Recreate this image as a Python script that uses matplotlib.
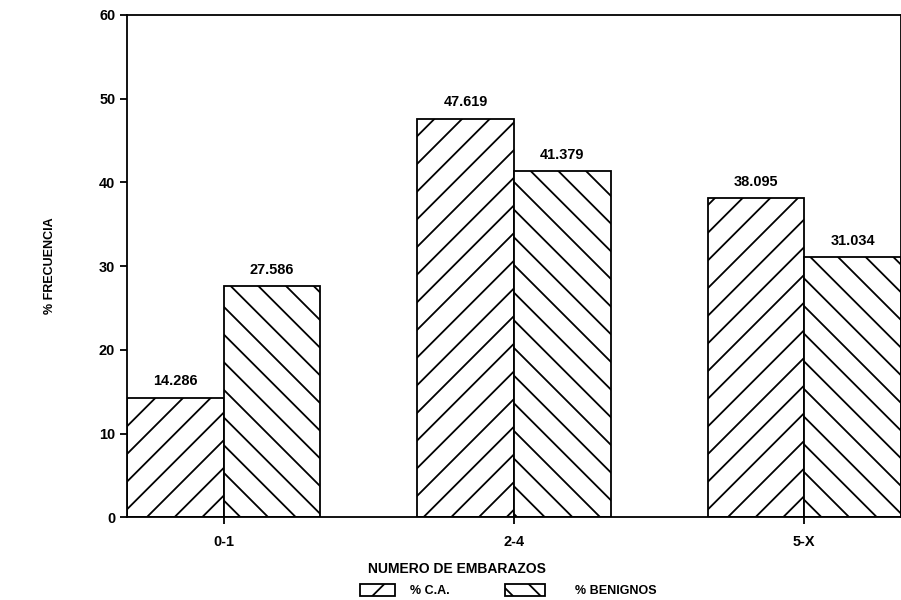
import matplotlib
matplotlib.use("Agg")
import matplotlib.pyplot as plt
import numpy as np

# high dpi / small figure so the hatch tile is wider (sparser lines, like the scan)
DPI = 166.8
S = 100.0 / DPI  # converts "points at 100 dpi" to points at this dpi

plt.rcParams['font.family'] = ['Liberation Sans', 'DejaVu Sans']
plt.rcParams['font.weight'] = 'bold'
plt.rcParams['hatch.linewidth'] = 1.3 * S

categorias = ['0-1', '2-4', '5-X']
ca = [14.286, 47.619, 38.095]
benignos = [27.586, 41.379, 31.034]
etiquetas_ca = ['14.286', '47.619', '38.095']
etiquetas_ben = ['27.586', '41.379', '31.034']
yticks = [0, 10, 20, 30, 40, 50, 60]

fig = plt.figure(figsize=(901 / DPI, 600 / DPI), dpi=DPI)
ax = fig.add_axes([0.141, 0.138, 0.859, 0.837])

x = np.arange(len(categorias))
w = 0.333
b1 = ax.bar(x - w / 2, ca, w, facecolor='white', edgecolor='black',
            hatch='//', linewidth=1.3 * S, label='% C.A.')
b2 = ax.bar(x + w / 2, benignos, w, facecolor='white', edgecolor='black',
            hatch='\\\\', linewidth=1.3 * S, label='% BENIGNOS')

for xi, v, t in zip(x - w / 2, ca, etiquetas_ca):
    ax.text(xi, v + 1.1, t, ha='center', va='bottom', fontsize=10.5 * S, fontweight='bold')
for xi, v, t in zip(x + w / 2, benignos, etiquetas_ben):
    ax.text(xi, v + 1.1, t, ha='center', va='bottom', fontsize=10.5 * S, fontweight='bold')

ax.set_xlim(-w, len(categorias) - 1 + w)
ax.set_ylim(0, 60)
ax.set_yticks(yticks)
ax.set_xticks(x)
ax.set_xticklabels(categorias)
ax.tick_params(labelsize=10.5 * S, width=1.3 * S, length=5 * S, pad=3.5 * S)
ax.tick_params(axis='x', pad=8 * S)
for lab in ax.get_xticklabels() + ax.get_yticklabels():
    lab.set_fontweight('bold')
for s in ax.spines.values():
    s.set_linewidth(1.3 * S)

ax.set_xlabel('NUMERO DE EMBARAZOS', fontsize=10 * S, fontweight='bold')
ax.xaxis.set_label_coords(0.426, -0.09)
ax.set_ylabel('% FRECUENCIA', fontsize=9 * S, fontweight='bold', labelpad=31 * S)

leg_kw = dict(loc='lower left', frameon=False, handleheight=1.0,
              borderpad=0, prop={'weight': 'bold', 'size': 9 * S})
fig.legend(handles=[b1], bbox_to_anchor=(0.393, -0.006), handlelength=2.8,
           handletextpad=1.2, **leg_kw)
fig.legend(handles=[b2], bbox_to_anchor=(0.553, -0.006), handlelength=3.2,
           handletextpad=2.4, **leg_kw)

fig.savefig('out.png', dpi=DPI)
